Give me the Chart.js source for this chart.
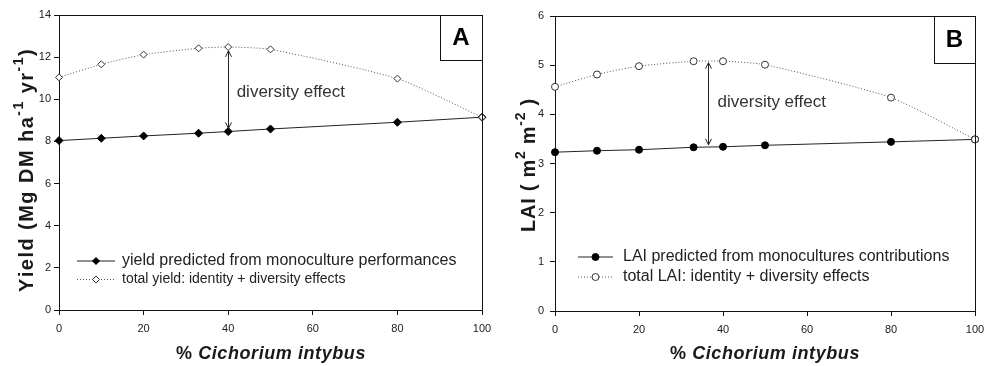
<!DOCTYPE html>
<html>
<head>
<meta charset="utf-8">
<script src="https://cdn.jsdelivr.net/npm/chart.js@4/dist/chart.umd.min.js"></script>
<style>
    body { margin: 0; background: #fff; width: 987px; height: 366px; overflow: hidden; position: relative; }
    .panel { position: absolute; top: 0; height: 366px; }
</style>
</head>
<body>
<div class="panel" style="left:0;width:493px"><canvas id="chartA" width="493" height="366"></canvas></div>
<div class="panel" style="left:493px;width:494px"><canvas id="chartB" width="494" height="366"></canvas></div>
<script>
// % Cichorium intybus in the mixture
const cichorium = [0, 10, 20, 33, 40, 50, 80, 100];

// panel A: yield (Mg DM ha-1 yr-1)
const yieldPredicted = [8.04, 8.15, 8.26, 8.39, 8.47, 8.59, 8.91, 9.15];
const yieldTotal = [11.04, 11.66, 12.12, 12.42, 12.48, 12.37, 10.98, 9.15];

// panel B: LAI (m2 m-2)
const laiPredicted = [3.23, 3.26, 3.28, 3.33, 3.34, 3.37, 3.44, 3.49];
const laiTotal = [4.56, 4.81, 4.98, 5.08, 5.08, 5.01, 4.34, 3.49];

const xTicks = [0, 20, 40, 60, 80, 100];
const yTicksA = [0, 2, 4, 6, 8, 10, 12, 14];
const yTicksB = [0, 1, 2, 3, 4, 5, 6];

const FONT = 'Arial, "Liberation Sans", sans-serif';

// draw a line of text made of parts (normal / italic / superscript), stretched to a width
function drawParts(ctx, parts, cx, cy, target, rotate) {
    let raw = 0, chars = 0;
    parts.forEach(p => {
        ctx.font = p.font;
        for (const ch of p.t) { raw += ctx.measureText(ch).width; chars++; }
    });
    const sp = target ? (target - raw) / chars : 0;
    ctx.save();
    ctx.translate(cx, cy);
    if (rotate) ctx.rotate(-Math.PI / 2);
    ctx.fillStyle = '#1a1a1a';
    ctx.textBaseline = 'middle';
    ctx.textAlign = 'left';
    let x = -(raw + sp * chars) / 2;
    parts.forEach(p => {
        ctx.font = p.font;
        for (const ch of p.t) {
            ctx.fillText(ch, x, p.dy || 0);
            x += ctx.measureText(ch).width + sp;
        }
    });
    ctx.restore();
}

function legendRow(ctx, x1, x2, textX, y, dotted, style, filled, text, size) {
    ctx.save();
    ctx.strokeStyle = dotted ? '#555' : '#222';
    ctx.lineWidth = 1;
    ctx.setLineDash(dotted ? [1, 2] : []);
    ctx.beginPath();
    ctx.moveTo(x1, y);
    ctx.lineTo(x2, y);
    ctx.stroke();
    ctx.setLineDash([]);
    ctx.fillStyle = filled ? '#000' : '#fff';
    ctx.strokeStyle = filled ? '#000' : '#333';
    Chart.helpers.drawPoint(ctx, { pointStyle: style, radius: 3.5, borderWidth: 1, rotation: 0 }, (x1 + x2) / 2, y);
    ctx.fillStyle = '#222';
    ctx.font = size + 'px ' + FONT;
    ctx.textBaseline = 'middle';
    ctx.fillText(text, textX, y);
    ctx.restore();
}

function makeChart(id, p) {
    const decor = {
        id: 'decor' + id,
        afterDraw(chart) {
            const ctx = chart.ctx;
            const a = chart.chartArea;
            const xs = chart.scales.x, ys = chart.scales.y;
            ctx.save();
            // frame
            ctx.strokeStyle = '#111';
            ctx.lineWidth = 1;
            ctx.beginPath();
            ctx.moveTo(a.left, a.top + 0.5);
            ctx.lineTo(a.right + 0.5, a.top + 0.5);
            ctx.lineTo(a.right + 0.5, a.bottom);
            ctx.stroke();
            // panel letter box
            ctx.strokeRect(a.right - p.box.w + 0.5, a.top + 0.5, p.box.w, p.box.h);
            ctx.fillStyle = '#000';
            ctx.font = 'bold 24px ' + FONT;
            ctx.textAlign = 'center';
            ctx.textBaseline = 'middle';
            ctx.fillText(p.letter, a.right - p.box.w / 2, a.top + p.box.h / 2 + 1);
            // diversity arrow
            const ax = Math.round(xs.getPixelForValue(p.arrow.x)) + 0.5;
            const y1 = ys.getPixelForValue(p.arrow.top);
            const y2 = ys.getPixelForValue(p.arrow.bottom);
            ctx.strokeStyle = '#222';
            ctx.beginPath();
            ctx.moveTo(ax, y1);
            ctx.lineTo(ax, y2);
            ctx.moveTo(ax - 3, y1 + 6); ctx.lineTo(ax, y1); ctx.lineTo(ax + 3, y1 + 6);
            ctx.moveTo(ax - 3, y2 - 6); ctx.lineTo(ax, y2); ctx.lineTo(ax + 3, y2 - 6);
            ctx.stroke();
            ctx.fillStyle = '#333';
            ctx.font = '17px ' + FONT;
            ctx.textAlign = 'left';
            ctx.fillText('diversity effect', xs.getPixelForValue(p.label.x), ys.getPixelForValue(p.label.y));
            ctx.restore();
            // legend
            const L = p.legend;
            legendRow(ctx, L.x1, L.x2, L.tx, L.y1, false, p.marker, true, p.names[0], L.s1);
            legendRow(ctx, L.x1, L.x2, L.tx, L.y2, true, p.marker, false, p.names[1], L.s2);
            // axis titles
            drawParts(ctx, p.yTitle, p.yTitlePos[0], p.yTitlePos[1], p.yTitlePos[2], true);
            drawParts(ctx, [
                { t: '% ', font: 'bold 18px ' + FONT },
                { t: 'Cichorium intybus', font: 'italic bold 18px ' + FONT }
            ], p.xTitlePos[0], p.xTitlePos[1], p.xTitlePos[2], false);
        }
    };

    const scaleBase = {
        type: 'linear',
        border: { display: true, color: '#111', width: 1 },
        grid: { drawOnChartArea: false, drawTicks: true, tickLength: 5, color: '#111' }
    };

    return new Chart(document.getElementById(id), {
        type: 'line',
        data: {
            datasets: [{
                label: p.names[0],
                data: cichorium.map((x, i) => ({ x: x, y: p.predicted[i] })),
                order: 1,
                borderColor: '#222',
                borderWidth: 1,
                pointStyle: p.marker,
                pointRadius: p.marker === 'circle' ? 3.5 : 4,
                pointBackgroundColor: '#000',
                pointBorderColor: '#000',
                tension: 0
            }, {
                label: p.names[1],
                data: cichorium.map((x, i) => ({ x: x, y: p.total[i] })),
                order: 0,
                borderColor: '#555',
                borderWidth: 1,
                borderDash: [1, 2],
                pointStyle: p.marker,
                pointRadius: 3.5,
                pointBackgroundColor: '#fff',
                pointBorderColor: '#333',
                pointBorderWidth: 1,
                tension: 0.2
            }]
        },
        options: {
            responsive: false,
            animation: false,
            clip: false,
            layout: { autoPadding: false, padding: { top: p.pad.top, right: p.pad.right, left: 0, bottom: 0 } },
            plugins: { legend: { display: false }, tooltip: { enabled: false } },
            scales: {
                x: Object.assign({}, scaleBase, {
                    min: 0, max: 100,
                    afterBuildTicks: s => { s.ticks = xTicks.map(v => ({ value: v })); },
                    afterFit: s => { s.height = p.pad.xh; s.paddingLeft = 0; s.paddingRight = 0; },
                    ticks: { font: { size: 11, family: FONT }, color: '#222', padding: 7, maxRotation: 0 }
                }),
                y: Object.assign({}, scaleBase, {
                    min: 0, max: p.yMax,
                    afterBuildTicks: s => { s.ticks = p.yTicks.map(v => ({ value: v })); },
                    afterFit: s => { s.width = p.pad.yw; s.paddingTop = 0; s.paddingBottom = 0; },
                    ticks: { font: { size: 11, family: FONT }, color: '#222', padding: p.pad.yp }
                })
            }
        },
        plugins: [decor]
    });
}

makeChart('chartA', {
    predicted: yieldPredicted,
    total: yieldTotal,
    yMax: 14,
    yTicks: yTicksA,
    marker: 'rectRot',
    letter: 'A',
    names: ['yield predicted from monoculture performances', 'total yield: identity + diversity effects'],
    pad: { top: 15, right: 11, xh: 56, yw: 59, yp: 3 },
    box: { w: 42, h: 45 },
    arrow: { x: 40, top: 12.3, bottom: 8.62 },
    label: { x: 42, y: 10.31 },
    legend: { x1: 77, x2: 115, tx: 122, y1: 261, y2: 279.5, s1: 16, s2: 14 },
    yTitle: [
        { t: 'Yield (Mg DM ha', font: 'bold 20px ' + FONT },
        { t: '-1', font: 'bold 14px ' + FONT, dy: -8 },
        { t: ' yr', font: 'bold 20px ' + FONT },
        { t: '-1', font: 'bold 14px ' + FONT, dy: -8 },
        { t: ')', font: 'bold 20px ' + FONT }
    ],
    yTitlePos: [27, 170, 244],
    xTitlePos: [271, 354, 190]
});

makeChart('chartB', {
    predicted: laiPredicted,
    total: laiTotal,
    yMax: 6,
    yTicks: yTicksB,
    marker: 'circle',
    letter: 'B',
    names: ['LAI predicted from monocultures contributions', 'total LAI: identity + diversity effects'],
    pad: { top: 16, right: 12, xh: 55, yw: 62, yp: 6 },
    box: { w: 41, h: 47 },
    arrow: { x: 36.5, top: 5.05, bottom: 3.38 },
    label: { x: 38.7, y: 4.24 },
    legend: { x1: 85, x2: 120, tx: 130, y1: 257, y2: 277, s1: 16, s2: 16 },
    yTitle: [
        { t: 'LAI ( m', font: 'bold 20px ' + FONT },
        { t: '2', font: 'bold 14px ' + FONT, dy: -8 },
        { t: ' m', font: 'bold 20px ' + FONT },
        { t: '-2', font: 'bold 14px ' + FONT, dy: -8 },
        { t: ' )', font: 'bold 20px ' + FONT }
    ],
    yTitlePos: [36, 165, 134],
    xTitlePos: [272, 354, 190]
});
</script>
</body>
</html>
